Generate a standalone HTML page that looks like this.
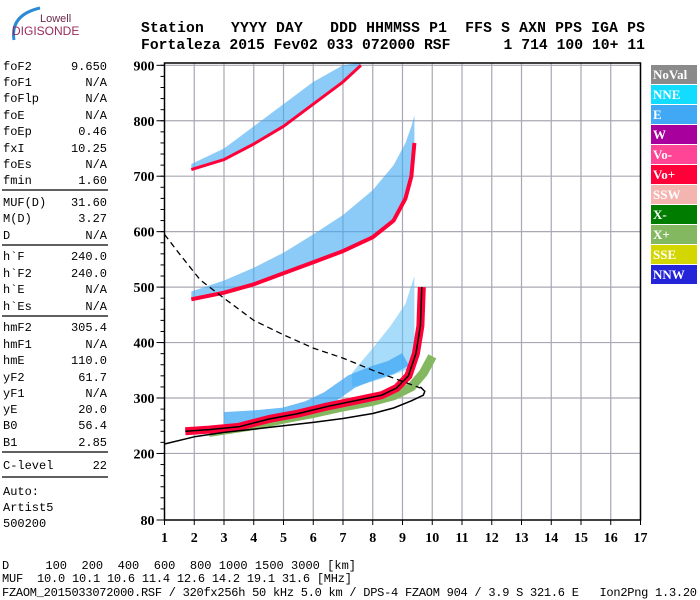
<!DOCTYPE html>
<html><head><meta charset="utf-8"><style>
body{margin:0;background:#fff}
svg{display:block}
.mono{font-family:"Liberation Mono",monospace}
.ax{font-family:"Liberation Serif",serif;font-weight:bold;font-size:14px}
</style></head><body>
<svg id="chart" width="700" height="600" viewBox="0 0 700 600" xmlns="http://www.w3.org/2000/svg">
<g>
<path d="M14 40 Q10 15 40 8" stroke="#2a8ad8" stroke-width="3" fill="none"/>
<text x="40" y="22" font-family="Liberation Sans,sans-serif" font-size="11" fill="#6b2a4a">Lowell</text>
<text x="12" y="35" font-family="Liberation Sans,sans-serif" font-size="12" fill="#9a2a5a">DIGISONDE</text>
</g>
<g class="mono" font-weight="bold" font-size="14.7">
<text x="141" y="32" textLength="504" xml:space="preserve">Station   YYYY DAY   DDD HHMMSS P1  FFS S AXN PPS IGA PS</text>
<text x="141" y="49" textLength="504" xml:space="preserve">Fortaleza 2015 Fev02 033 072000 RSF      1 714 100 10+ 11</text>
</g>
<g id="params" class="mono" font-size="12"></g>
<g id="plot"></g>
<g id="legend"></g>
<g class="mono" font-size="12">
<text x="2" y="569" textLength="354" xml:space="preserve">D     100  200  400  600  800 1000 1500 3000 [km]</text>
<text x="2" y="582" textLength="350" xml:space="preserve">MUF  10.0 10.1 10.6 11.4 12.6 14.2 19.1 31.6 [MHz]</text>
<text x="2" y="596" textLength="695" xml:space="preserve">FZAOM_2015033072000.RSF / 320fx256h 50 kHz 5.0 km / DPS-4 FZAOM 904 / 3.9 S 321.6 E   Ion2Png 1.3.20</text>
</g>
</svg>
<script>
const paramNames=["foF2","foF1","foFlp","foE","foEp","fxI","foEs","fmin","MUF(D)","M(D)","D","h`F","h`F2","h`E","h`Es","hmF2","hmF1","hmE","yF2","yF1","yE","B0","B1","C-level"];
const paramValues=["9.650","N/A","N/A","N/A","0.46","10.25","N/A","1.60","31.60","3.27","N/A","240.0","240.0","N/A","N/A","305.4","N/A","110.0","61.7","N/A","20.0","56.4","2.85","22"];
const paramY=[70,86,102,119,135,152,168,184,206,222,239,260,277,293,310,331,348,364,381,397,413,429,446,469];
const sepY=[190,245,316,452,477];
const xTicks=[1,2,3,4,5,6,7,8,9,10,11,12,13,14,15,16,17];
const yTicks=[80,200,300,400,500,600,700,800,900];
const legendLabels=["NoVal","NNE","E","W","Vo-","Vo+","SSW","X-","X+","SSE","NNW"];
const legendColors=["#8a8a8a","#12dcff","#40a8f4","#a8009c","#ff4595","#ff0038","#f4b4b0","#007c00","#84b860","#d4d600","#2424d8"];
const oFreq=[1.7,2.5,3.5,4.5,5.5,6.5,7.5,8.3,8.8,9.2,9.45,9.6,9.65];
const oHeight=[240,243,248,262,272,285,296,305,318,340,380,430,500];
const xFreq=[2.5,4,5,6,7,8,8.7,9.3,9.7,10];
const xHeight=[238,250,262,272,284,294,304,320,345,375];
const eFreq=[3,4,5,5.8,6.5,7.3,8,8.6,9.1];
const eHeight=[262,265,270,282,300,330,345,355,370];
const cloudFreq=[7.3,8,8.6,9.1,9.4];
const cloudLo=[320,330,340,350,365];
const cloudHi=[345,390,430,470,520];
const f2Freq=[1.9,3,4,5,6,7,8,8.7,9.1,9.3,9.4];
const f2Height=[478,490,505,525,545,565,590,620,660,700,760];
const f2bHeight=[492,512,535,562,595,630,675,720,760,790,810];
const f3Freq=[1.9,3,4,5,6,7,7.6];
const f3Height=[712,730,758,790,830,870,900];
const f3bHeight=[722,750,790,830,870,900,905];
const profFreq=[1,2,3,4,5,6,7,8,8.7,9.3,9.7,9.75,9.6];
const profHeight=[217,230,238,244,250,256,263,272,282,295,305,312,320];
const dashFreq=[1,1.5,2.2,3,4,5,6,7,8,9,9.6];
const dashHeight=[595,560,513,480,440,414,390,372,350,330,318];
const NS="http://www.w3.org/2000/svg";
const X=f=>164.5+(f-1)*29.75;
const Y=h=>520-(h-80)*0.5545;
function mk(tag,attrs,parent){const e=document.createElementNS(NS,tag);for(const k in attrs)e.setAttribute(k,attrs[k]);parent.appendChild(e);return e;}
const P=document.getElementById('params');
paramNames.forEach((n,i)=>{
 const t=mk('text',{x:3,y:paramY[i]},P);t.textContent=n;
 
 
 const v=mk('text',{x:107,y:paramY[i],'text-anchor':'end'},P);v.textContent=paramValues[i];
 
 
});
sepY.forEach(y=>{mk('line',{x1:2,x2:108,y1:y,y2:y,stroke:'#000','stroke-width':1.2},P);});
[["Auto:",495],["Artist5",511],["500200",527]].forEach(a=>{const t=mk('text',{x:3,y:a[1]},P);t.textContent=a[0];});
const G=document.getElementById('plot');
xTicks.forEach(f=>{if(f>1)mk('line',{x1:X(f),x2:X(f),y1:63,y2:520,stroke:'#a8a8b4','stroke-width':1.2},G);});
for(let h=200;h<=900;h+=100)mk('line',{x1:X(1),x2:X(17),y1:Y(h),y2:Y(h),stroke:'#a8a8b4','stroke-width':1.2},G);
function poly(fr,hs,color,w,dash){const pts=fr.map((f,i)=>X(f).toFixed(1)+','+Y(hs[i]).toFixed(1)).join(' ');const p=mk('polyline',{points:pts,fill:'none',stroke:color,'stroke-width':w,'stroke-linejoin':'round'},G);if(dash)p.setAttribute('stroke-dasharray',dash);return p;}
function band(fr,lo,hi,color,op){const pts=fr.map((f,i)=>X(f).toFixed(1)+','+Y(lo[i]).toFixed(1)).concat(fr.slice().reverse().map((f,j)=>{const i=fr.length-1-j;return X(f).toFixed(1)+','+Y(hi[i]).toFixed(1);})).join(' ');return mk('polygon',{points:pts,fill:color,opacity:op},G);}
let p=band(f3Freq,f3Height,f3bHeight,'#40a8f4',0.6);
p=poly(f3Freq,f3Height,'#ff0038',3);
p=band(f2Freq,f2Height,f2bHeight,'#40a8f4',0.6);
p=poly(f2Freq,f2Height,'#ff0038',4);
p=band(cloudFreq,cloudLo,cloudHi,'#5ec0f8',0.55);
p=poly(eFreq,eHeight,'#40a8f4',14);p.setAttribute('opacity','0.75');
p=poly(xFreq,xHeight,'#84b860',9);
p=poly(oFreq,oHeight,'#ff0038',8);
p=poly(oFreq,oHeight,'#000',1.5);
p=poly(profFreq,profHeight,'#000',1.5);
p=poly(dashFreq,dashHeight,'#000',1.3,'6,4');
mk('rect',{x:X(1),y:63,width:X(17)-X(1),height:520-63,fill:'none',stroke:'#000','stroke-width':1.5},G);
xTicks.forEach(f=>{mk('line',{x1:X(f),x2:X(f),y1:520,y2:525,stroke:'#000'},G);const t=mk('text',{x:X(f),y:542,'text-anchor':'middle','class':'ax'},G);t.textContent=f;
 
 });
for(let h=80;h<=900;h+=20)mk('line',{x1:X(1)-4,x2:X(1),y1:Y(h),y2:Y(h),stroke:'#000'},G);
yTicks.forEach(h=>{mk('line',{x1:X(1)-8,x2:X(1),y1:Y(h),y2:Y(h),stroke:'#000'},G);const t=mk('text',{x:X(1)-10,y:Y(h)+5,'text-anchor':'end','class':'ax'},G);t.textContent=h;
 
 });
const L=document.getElementById('legend');
legendLabels.forEach((n,i)=>{const y=65+i*20;mk('rect',{x:651,y:y,width:46,height:19,fill:legendColors[i]},L);const t=mk('text',{x:653,y:y+14,fill:'#fff','font-family':'Liberation Serif,serif','font-weight':'bold','font-size':13},L);t.textContent=n;
 
 });
</script>
</body></html>
